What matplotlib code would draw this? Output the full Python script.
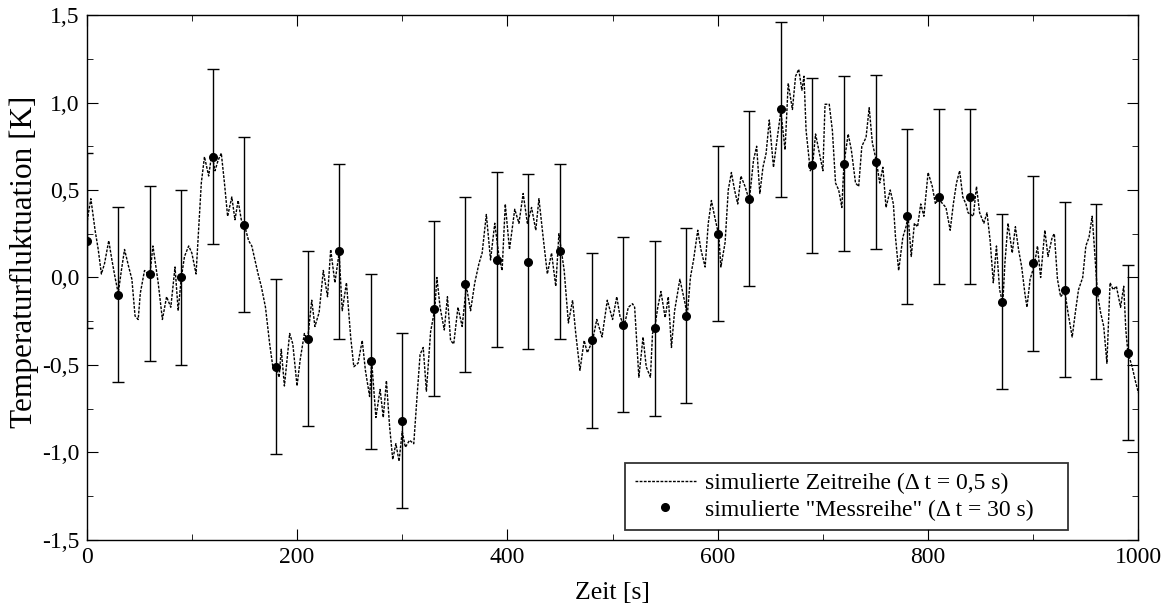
import numpy as np
import matplotlib
matplotlib.use('Agg')
import matplotlib.pyplot as plt
from matplotlib.ticker import MultipleLocator, FuncFormatter

plt.rcParams['font.family'] = ['Liberation Serif', 'DejaVu Serif']

# simulierte Zeitreihe
zeit_sim = [0, 2, 4, 6, 8, 11, 14, 17, 21, 24, 27, 30, 33, 36, 40, 43, 46, 49, 51, 55,
            60, 63, 68, 72, 76, 80, 84, 87, 90, 93, 97, 100, 104, 106, 109, 112, 116, 119, 122, 125,
            128, 131, 134, 138, 141, 144, 147, 150, 154, 157, 160, 163, 166, 170, 174, 177, 181, 183, 185, 188,
            193, 196, 200, 203, 207, 210, 214, 217, 221, 225, 229, 232, 236, 240, 243, 247, 251, 254, 258, 262,
            265, 269, 271, 275, 279, 282, 285, 288, 291, 294, 297, 300, 303, 307, 311, 314, 317, 320, 323, 327,
            331, 333, 336, 340, 343, 346, 349, 353, 357, 361, 365, 369, 373, 376, 380, 384, 388, 392, 395, 398,
            402, 407, 411, 415, 419, 423, 427, 430, 434, 438, 442, 446, 449, 454, 458, 462, 465, 469, 473, 476,
            481, 485, 490, 495, 500, 504, 507, 511, 515, 519, 521, 525, 529, 532, 536, 538, 540, 543, 546, 550,
            553, 556, 559, 564, 569, 571, 574, 577, 581, 584, 588, 591, 594, 597, 601, 603, 607, 610, 613, 616,
            619, 622, 626, 630, 634, 637, 640, 643, 646, 649, 653, 656, 660, 664, 667, 671, 674, 677, 680, 682,
            684, 688, 690, 693, 696, 700, 702, 706, 709, 712, 715, 718, 720, 724, 727, 731, 734, 737, 741, 744,
            747, 751, 754, 757, 760, 764, 767, 769, 772, 776, 779, 781, 784, 787, 790, 793, 796, 800, 804, 807,
            810, 814, 817, 821, 824, 827, 830, 833, 836, 838, 843, 846, 849, 853, 856, 859, 862, 865, 868, 871,
            873, 876, 880, 883, 886, 889, 892, 894, 897, 901, 904, 907, 911, 914, 918, 920, 923, 926, 930, 933,
            937, 940, 943, 947, 950, 953, 956, 958, 961, 964, 967, 970, 973, 976, 979, 983, 986, 988, 990, 994,
            997, 1000]
temp_sim = [0.30, 0.38, 0.45, 0.36, 0.27, 0.16, 0.02, 0.08, 0.21, 0.10, 0.00, -0.09, 0.04, 0.16, 0.06, -0.01, -0.22, -0.24, -0.09, 0.04,
            0.01, 0.18, -0.03, -0.24, -0.11, -0.17, 0.06, -0.19, 0.00, 0.12, 0.18, 0.14, 0.02, 0.23, 0.54, 0.69, 0.58, 0.71, 0.61, 0.67,
            0.71, 0.54, 0.35, 0.46, 0.33, 0.44, 0.33, 0.30, 0.21, 0.18, 0.10, 0.02, -0.05, -0.17, -0.38, -0.51, -0.53, -0.57, -0.41, -0.62,
            -0.32, -0.38, -0.62, -0.47, -0.32, -0.36, -0.13, -0.28, -0.20, 0.04, -0.11, 0.16, -0.03, 0.14, -0.19, -0.03, -0.34, -0.51, -0.49, -0.36,
            -0.53, -0.68, -0.48, -0.80, -0.64, -0.80, -0.59, -0.85, -1.04, -0.95, -1.05, -0.88, -0.97, -0.93, -0.95, -0.69, -0.44, -0.40, -0.65, -0.31,
            -0.18, 0.00, -0.17, -0.30, -0.11, -0.36, -0.38, -0.17, -0.28, -0.05, -0.19, -0.03, 0.08, 0.14, 0.36, 0.10, 0.31, 0.12, 0.04, 0.42,
            0.16, 0.39, 0.31, 0.48, 0.31, 0.40, 0.27, 0.45, 0.23, 0.02, 0.14, -0.05, 0.25, 0.04, -0.26, -0.13, -0.32, -0.53, -0.36, -0.43,
            -0.36, -0.24, -0.34, -0.13, -0.24, -0.11, -0.22, -0.28, -0.17, -0.15, -0.17, -0.57, -0.34, -0.51, -0.57, -0.32, -0.29, -0.17, -0.08, -0.23,
            -0.11, -0.40, -0.19, -0.01, -0.15, -0.22, 0.00, 0.10, 0.27, 0.16, 0.06, 0.31, 0.44, 0.35, 0.24, 0.06, 0.20, 0.50, 0.60, 0.50,
            0.42, 0.58, 0.52, 0.44, 0.67, 0.75, 0.48, 0.63, 0.71, 0.90, 0.63, 0.77, 0.95, 0.73, 1.11, 0.96, 1.15, 1.19, 1.07, 1.15,
            0.84, 0.61, 0.63, 0.82, 0.73, 0.61, 0.99, 0.99, 0.84, 0.54, 0.50, 0.40, 0.65, 0.82, 0.73, 0.54, 0.52, 0.75, 0.80, 0.97,
            0.77, 0.66, 0.54, 0.63, 0.40, 0.50, 0.42, 0.23, 0.04, 0.23, 0.29, 0.35, 0.12, 0.31, 0.29, 0.42, 0.35, 0.60, 0.52, 0.42,
            0.45, 0.42, 0.40, 0.27, 0.42, 0.54, 0.61, 0.46, 0.42, 0.37, 0.35, 0.52, 0.37, 0.31, 0.37, 0.21, -0.03, 0.18, -0.07, -0.15,
            0.08, 0.31, 0.14, 0.29, 0.16, 0.06, -0.09, -0.17, -0.01, 0.07, 0.18, 0.00, 0.27, 0.12, 0.23, 0.25, -0.01, -0.11, -0.08, -0.20,
            -0.34, -0.20, -0.07, 0.00, 0.18, 0.23, 0.35, 0.18, -0.09, -0.20, -0.28, -0.49, -0.03, -0.07, -0.05, -0.17, -0.05, -0.30, -0.43, -0.51,
            -0.59, -0.66]

# simulierte "Messreihe" alle 30 s
zeit_mess = [0, 30, 60, 90, 120, 150, 180, 210, 240, 270, 300, 330, 360, 390, 420, 450, 480,
             510, 540, 570, 600, 630, 660, 690, 720, 750, 780, 810, 840, 870, 900, 930, 960, 990]
temp_mess = [0.21, -0.10, 0.02, 0.00, 0.69, 0.30, -0.51, -0.35, 0.15, -0.48, -0.82, -0.18, -0.04,
             0.10, 0.09, 0.15, -0.36, -0.27, -0.29, -0.22, 0.25, 0.45, 0.96, 0.64, 0.65, 0.66,
             0.35, 0.46, 0.46, -0.14, 0.08, -0.07, -0.08, -0.43]
fehler = 0.5

fig = plt.figure(figsize=(11.68, 6.10), dpi=100)
ax = fig.add_axes([0.0742, 0.1148, 0.9005, 0.8606])

ax.plot(zeit_sim, temp_sim, color='black', lw=1.0, linestyle=(0, (2, 1)),
        label='simulierte Zeitreihe (\u0394 t = 0,5 s)')
ax.errorbar(zeit_mess, temp_mess, yerr=fehler, fmt='none', ecolor='black',
            elinewidth=1, capsize=4, capthick=1)
ax.plot(zeit_mess, temp_mess, 'o', color='black', markersize=5.5,
        label='simulierte "Messreihe" (\u0394 t = 30 s)')

ax.set_xlim(0, 1000)
ax.set_ylim(-1.5, 1.5)
ax.xaxis.set_major_locator(MultipleLocator(200))
ax.xaxis.set_minor_locator(MultipleLocator(100))
ax.yaxis.set_major_locator(MultipleLocator(0.5))
ax.yaxis.set_minor_locator(MultipleLocator(0.25))
ax.yaxis.set_major_formatter(FuncFormatter(lambda v, p: ('%.1f' % v).replace('.', ',').replace('-0,0', '0,0')))
ax.tick_params(which='both', direction='in', top=True, right=True, labelsize=17, pad=5)
ax.tick_params(which='major', length=8)
ax.tick_params(which='minor', length=4.5)
for s in ax.spines.values():
    s.set_linewidth(1)

ax.set_xlabel('Zeit [s]', fontsize=18.5, labelpad=10)
ax.set_ylabel('Temperaturfluktuation [K]', fontsize=22.5)
ax.yaxis.set_label_coords(-0.045, 0.53)

leg = ax.legend(loc='lower left', bbox_to_anchor=(0.512, 0.019, 0.421, 0.137), mode='expand',
                fontsize=17, frameon=True, fancybox=False, handlelength=2.6, handletextpad=0.4,
                borderaxespad=0, labelspacing=0.2, borderpad=0.4)
leg.get_frame().set_edgecolor('black')
leg.get_frame().set_linewidth(1.3)

plt.savefig('out.png', dpi=100)
